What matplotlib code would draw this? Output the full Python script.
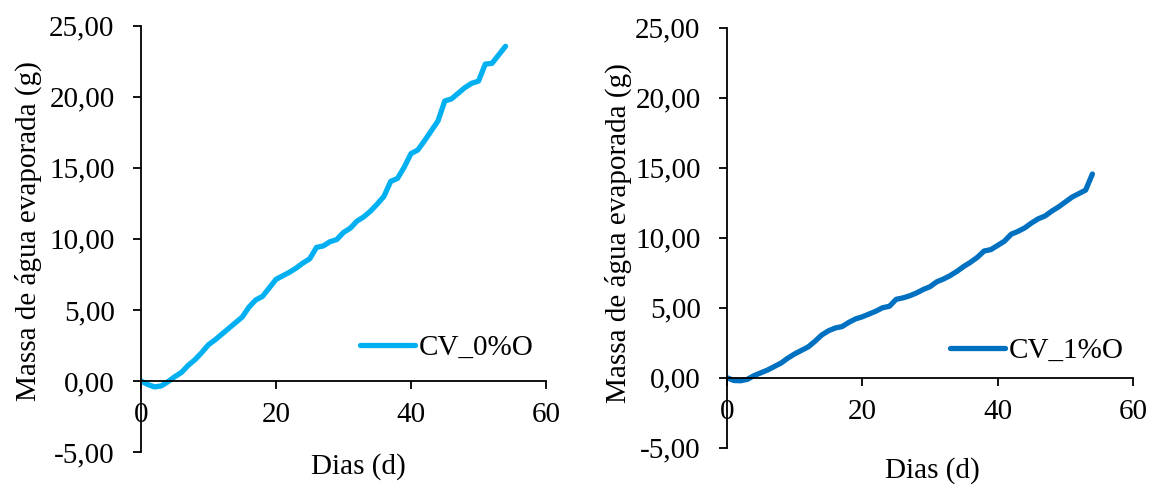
import matplotlib
matplotlib.use("Agg")
import matplotlib.pyplot as plt
from matplotlib.ticker import FixedLocator, FixedFormatter

# Evaporated water mass per day for the two mixes
dias = list(range(0, 55))
cv_0 = [0.00, -0.25, -0.42, -0.35, -0.05, 0.30, 0.60, 1.10, 1.50, 2.00,
        2.55, 2.90, 3.30, 3.70, 4.10, 4.50, 5.20, 5.70, 5.95, 6.55,
        7.15, 7.40, 7.65, 7.95, 8.30, 8.60, 9.40, 9.50, 9.80, 9.95,
        10.45, 10.75, 11.25, 11.55, 11.95, 12.45, 13.00, 14.05, 14.25, 15.05,
        16.00, 16.25, 16.90, 17.60, 18.30, 19.70, 19.85, 20.25, 20.65, 20.95,
        21.10, 22.30, 22.35, 22.95, 23.55]
cv_1 = [0.00, -0.20, -0.22, -0.12, 0.15, 0.35, 0.55, 0.80, 1.05, 1.40,
        1.70, 1.95, 2.20, 2.60, 3.05, 3.35, 3.55, 3.65, 3.95, 4.20,
        4.35, 4.55, 4.75, 5.00, 5.10, 5.60, 5.70, 5.85, 6.05, 6.30,
        6.50, 6.85, 7.05, 7.30, 7.60, 7.95, 8.25, 8.60, 9.05, 9.15,
        9.45, 9.75, 10.25, 10.45, 10.70, 11.05, 11.35, 11.55, 11.90, 12.20,
        12.55, 12.90, 13.15, 13.40, 14.55]

series_names = ["CV_0%O", "CV_1%O"]
series_colors = ["#00B0F0", "#0070C0"]

x_ticks = [0, 20, 40, 60]
y_ticks = [-5, 0, 5, 10, 15, 20, 25]
y_tick_labels = ["-5,00", "0,00", "5,00", "10,00", "15,00", "20,00", "25,00"]

x_label = "Dias (d)"
y_label = "Massa de água evaporada (g)"

plt.rcParams["font.family"] = ["Liberation Serif", "DejaVu Serif"]
FS = 21
FS_PX = FS * 100 / 72

W, H = 1156, 484
fig = plt.figure(figsize=(W / 100, H / 100), dpi=100)

# axes boxes in pixels: (left, right, top, bottom)
boxes = [(141, 546, 25.7, 452.0), (727, 1133, 27.7, 447.7)]
legend_pos = [(360, 348), (950, 351)]
xlabel_pos = [(358, 467), (932, 471)]
ylabel_pos = [(28, 231), (618, 233)]

for i, values in enumerate([cv_0, cv_1]):
    l, r, t, b = boxes[i]
    ax = fig.add_axes([l / W, 1 - b / H, (r - l) / W, (b - t) / H])
    ax.plot(dias, values, color=series_colors[i], lw=3.8,
            solid_joinstyle="round", solid_capstyle="round",
            label=series_names[i])
    ax.set_xlim(0, 60)
    ax.set_ylim(-5, 25)

    ax.spines["top"].set_visible(False)
    ax.spines["right"].set_visible(False)
    ax.spines["bottom"].set_position(("data", 0))
    for s in ("left", "bottom"):
        ax.spines[s].set_linewidth(1.3)
        ax.spines[s].set_color("black")

    ax.xaxis.set_major_locator(FixedLocator(x_ticks))
    ax.yaxis.set_major_locator(FixedLocator(y_ticks))
    ax.yaxis.set_major_formatter(FixedFormatter(y_tick_labels))
    ax.tick_params(axis="both", direction="out", length=6, width=1.3,
                   labelsize=FS, color="black")
    ax.tick_params(axis="y", pad=13)
    ax.tick_params(axis="x", pad=9)

    lx, ly = legend_pos[i]
    ax.legend(loc="center left", frameon=False, fontsize=FS,
              handlelength=55 / FS_PX, handletextpad=4 / FS_PX,
              borderpad=0, borderaxespad=0,
              bbox_to_anchor=((lx - l) / (r - l), (b - ly) / (b - t)))

    xl, yl = xlabel_pos[i]
    fig.text(xl / W, 1 - yl / H, x_label, fontsize=FS, ha="center", va="center")
    yx, yy = ylabel_pos[i]
    fig.text(yx / W, 1 - yy / H, y_label, fontsize=FS,
             rotation=90, ha="center", va="center")

fig.savefig("out.png", dpi=100)
